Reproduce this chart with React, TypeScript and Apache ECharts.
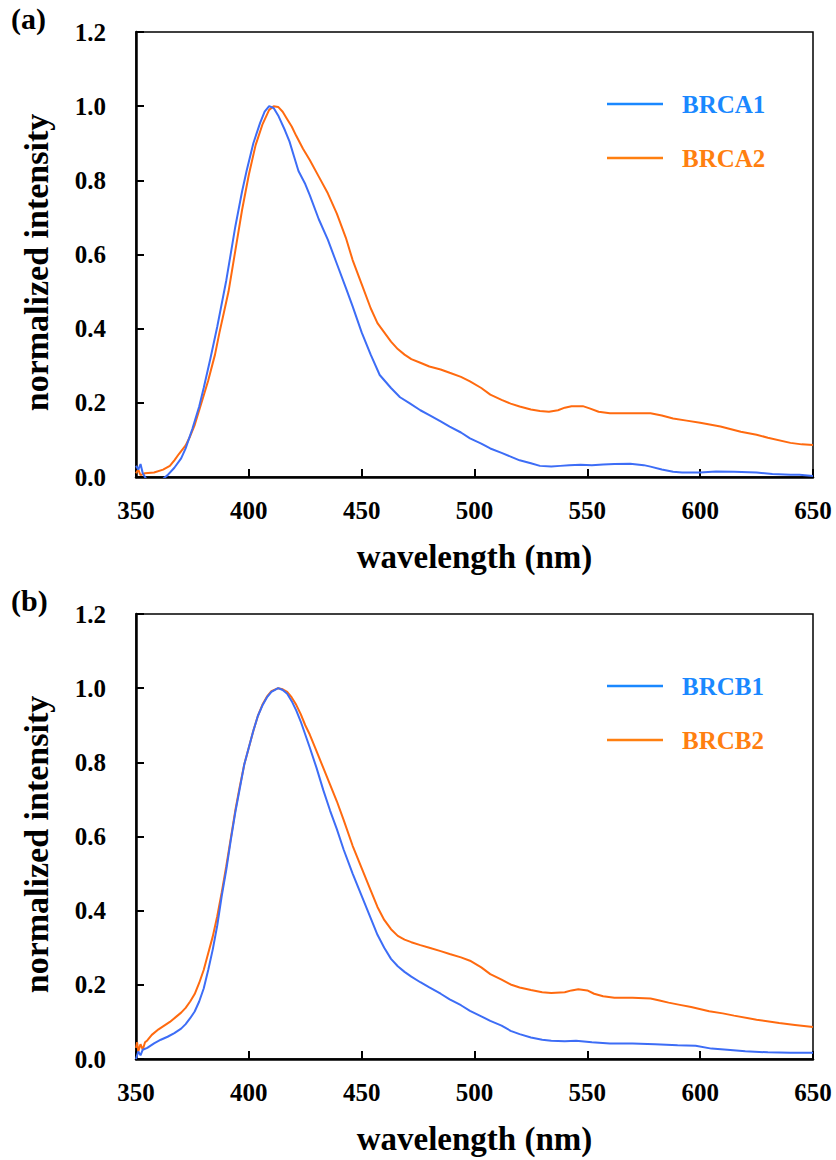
import React, { useEffect, useRef } from "react";
import * as echarts from "echarts";

// ---------- data ----------
const xTicks = [350, 400, 450, 500, 550, 600, 650];
const yTicks = [0, 0.2, 0.4, 0.6, 0.8, 1.0, 1.2];

const brca1X = [350, 351, 352, 353, 355, 358, 362, 364, 367, 370, 372, 375, 378, 380, 383, 386, 390, 394, 397, 399, 402, 405, 407, 409, 411, 413, 416, 418, 420, 422, 425, 427, 431, 435, 439, 443, 446, 450, 454, 458, 463, 467, 471, 476, 480, 485, 489, 494, 498, 503, 507, 512, 516, 520, 525, 529, 534, 538, 542, 547, 552, 557, 562, 569, 575, 578, 583, 588, 592, 600, 607, 615, 625, 632, 640, 644, 650];
const brca1Y = [0.03, 0.02, 0.035, 0.01, -0.01, -0.02, -0.005, 0.005, 0.025, 0.05, 0.077, 0.13, 0.19, 0.24, 0.32, 0.405, 0.53, 0.675, 0.77, 0.825, 0.9, 0.955, 0.985, 1.0, 0.995, 0.975, 0.935, 0.905, 0.865, 0.825, 0.79, 0.76, 0.695, 0.64, 0.575, 0.51, 0.46, 0.39, 0.33, 0.275, 0.24, 0.215, 0.2, 0.18, 0.167, 0.15, 0.136, 0.12, 0.104, 0.09, 0.077, 0.065, 0.055, 0.045, 0.037, 0.03, 0.028, 0.03, 0.032, 0.033, 0.032, 0.034, 0.035, 0.036, 0.032, 0.028, 0.02, 0.014, 0.012, 0.012, 0.015, 0.014, 0.012, 0.008, 0.006, 0.006, 0.003];

const brca2X = [350, 351, 352, 354, 358, 362, 365, 367, 369, 372, 374, 376, 378, 380, 382, 385, 387, 389, 391, 394, 397, 400, 403, 406, 409, 411, 413, 415, 417, 419, 421, 424, 427, 431, 435, 439, 443, 446, 450, 454, 457, 460, 463, 466, 469, 472, 476, 480, 485, 489, 494, 498, 503, 507, 512, 516, 520, 525, 529, 533, 537, 540, 543, 548, 551, 555, 560, 570, 578, 583, 588, 594, 600, 609, 618, 625, 630, 640, 645, 650];
const brca2Y = [0.01, 0.02, 0.005, 0.01, 0.012, 0.02, 0.03, 0.045, 0.062, 0.085, 0.11, 0.14, 0.18, 0.22, 0.26, 0.33, 0.39, 0.445, 0.5, 0.61, 0.72, 0.815, 0.895, 0.95, 0.99, 1.0, 0.998, 0.985, 0.965, 0.945, 0.92, 0.885, 0.855, 0.81, 0.765, 0.71, 0.645, 0.585, 0.52, 0.455, 0.415, 0.39, 0.365, 0.345, 0.33, 0.318, 0.308, 0.298, 0.29, 0.281, 0.27, 0.258, 0.24, 0.222, 0.208, 0.198, 0.19, 0.182, 0.178, 0.176, 0.18, 0.187, 0.191, 0.191, 0.185, 0.176, 0.172, 0.172, 0.172, 0.166, 0.158, 0.152, 0.146, 0.136, 0.122, 0.114, 0.106, 0.092, 0.088, 0.086];

const brcb1X = [350, 351, 352, 353, 355, 358, 361, 364, 367, 370, 372, 374, 376, 378, 380, 382, 384, 386, 388, 390, 392, 394, 396, 398, 400, 402, 404, 406, 408, 410, 413, 415, 417, 419, 421, 423, 425, 427, 430, 433, 436, 439, 442, 446, 450, 454, 457, 460, 463, 466, 469, 472, 476, 480, 485, 489, 494, 498, 503, 507, 512, 516, 520, 525, 530, 534, 540, 545, 552, 560, 570, 580, 590, 598, 605, 612, 620, 630, 640, 650];
const brcb1Y = [0.0, 0.02, 0.01, 0.025, 0.03, 0.042, 0.052, 0.06, 0.07, 0.082, 0.094, 0.11, 0.128, 0.155, 0.19, 0.24, 0.295, 0.36, 0.44, 0.51, 0.59, 0.665, 0.73, 0.795, 0.84, 0.885, 0.925, 0.953, 0.975, 0.99, 1.0, 0.995, 0.985, 0.965, 0.94, 0.91, 0.875, 0.84, 0.785, 0.725, 0.67, 0.62, 0.565, 0.5, 0.44, 0.38, 0.335, 0.3, 0.27, 0.25, 0.235, 0.222, 0.207, 0.193, 0.176, 0.161, 0.145, 0.13, 0.115, 0.103, 0.09, 0.076, 0.067, 0.058, 0.052, 0.049, 0.048, 0.049, 0.045, 0.042, 0.042, 0.04, 0.037, 0.036, 0.028, 0.025, 0.021, 0.018, 0.017, 0.017];

const brcb2X = [350, 350.5, 351, 352, 353, 354, 355, 357, 360, 363, 365, 368, 370, 372, 374, 376, 378, 380, 382, 384, 386, 388, 390, 392, 394, 396, 398, 400, 402, 404, 406, 408, 410, 413, 415, 417, 419, 421, 423, 425, 427, 430, 433, 436, 439, 442, 446, 450, 454, 457, 460, 463, 466, 469, 472, 476, 480, 485, 489, 494, 498, 503, 507, 512, 516, 520, 525, 530, 534, 540, 543, 546, 550, 553, 557, 562, 570, 578, 582, 586, 591, 596, 604, 610, 615, 625, 635, 642, 650];
const brcb2Y = [0.03, 0.045, 0.02, 0.04, 0.025, 0.045, 0.05, 0.065, 0.08, 0.092, 0.1, 0.115, 0.125, 0.138, 0.155, 0.175, 0.205, 0.24, 0.285, 0.33, 0.385, 0.45, 0.52, 0.595, 0.67, 0.735, 0.795, 0.84, 0.885, 0.925, 0.955, 0.977, 0.992, 1.0, 0.997, 0.99, 0.975, 0.955, 0.93, 0.9, 0.875, 0.83, 0.785, 0.74, 0.695, 0.645, 0.575, 0.515, 0.455, 0.41, 0.375, 0.35, 0.332, 0.322, 0.315, 0.307, 0.3, 0.291, 0.283, 0.274, 0.265, 0.247, 0.229, 0.214, 0.201, 0.193, 0.186, 0.18, 0.178, 0.18, 0.185, 0.188, 0.185, 0.176, 0.169, 0.165, 0.165, 0.163, 0.158, 0.152, 0.146, 0.14, 0.129, 0.123, 0.117, 0.106, 0.097, 0.092, 0.086];

const panelLabels = ["(a)", "(b)"];
const legendNames = [["BRCA1", "BRCA2"], ["BRCB1", "BRCB2"]];
const xTitle = "wavelength (nm)";
const yTitle = "normalized intensity";

// ---------- styles ----------
const FONT = "'Liberation Serif', 'Times New Roman', serif";
const BLUE = "#3D6DF6";
const ORANGE = "#FF6A0F";
const BLUE_LEG = "#1A88FF";
const ORANGE_LEG = "#FF7F10";

const pairs = (xs: number[], ys: number[]) => xs.map((x, i) => [x, ys[i]]);

const GRID_LEFT = 136;
const GRID_W = 677;
const GRID_H = 445;
const GRID_TOPS = [32, 614];

export default function App() {
  const ref = useRef<HTMLDivElement>(null);
  useEffect(() => {
    if (!ref.current) return;
    const chart = echarts.init(ref.current, undefined, { renderer: "svg" });

    const grids = GRID_TOPS.map((top) => ({
      left: GRID_LEFT,
      top,
      width: GRID_W,
      height: GRID_H,
      show: true,
      borderColor: "#000",
      borderWidth: 1.5,
      backgroundColor: "transparent",
    }));

    const xAxes = GRID_TOPS.map((_, i) => ({
      type: "value",
      gridIndex: i,
      min: xTicks[0],
      max: xTicks[xTicks.length - 1],
      interval: 50,
      axisLine: { show: true, onZero: false, lineStyle: { color: "#000", width: 2.5 } },
      axisTick: { show: true, inside: true, length: 8, lineStyle: { color: "#000", width: 2 } },
      axisLabel: {
        margin: 21,
        fontFamily: FONT,
        fontWeight: "bold",
        fontSize: 25,
        color: "#000",
      },
      splitLine: { show: false },
    }));

    const yAxes = GRID_TOPS.map((_, i) => ({
      type: "value",
      gridIndex: i,
      min: yTicks[0],
      max: yTicks[yTicks.length - 1],
      interval: 0.2,
      axisLine: { show: true, onZero: false, lineStyle: { color: "#000", width: 2.5 } },
      axisTick: { show: true, inside: true, length: 8, lineStyle: { color: "#000", width: 2 } },
      axisLabel: {
        margin: 30,
        fontFamily: FONT,
        fontWeight: "bold",
        fontSize: 25,
        color: "#000",
        formatter: (v: number) => v.toFixed(1),
      },
      splitLine: { show: false },
    }));

    const mk = (name: string, xs: number[], ys: number[], color: string, idx: number) => ({
      type: "line",
      name,
      xAxisIndex: idx,
      yAxisIndex: idx,
      data: pairs(xs, ys),
      showSymbol: false,
      clip: true,
      lineStyle: { color, width: 2 },
      itemStyle: { color },
      z: color === BLUE ? 3 : 2,
    });

    const series = [
      mk(legendNames[0][0], brca1X, brca1Y, BLUE, 0),
      mk(legendNames[0][1], brca2X, brca2Y, ORANGE, 0),
      mk(legendNames[1][0], brcb1X, brcb1Y, BLUE, 1),
      mk(legendNames[1][1], brcb2X, brcb2Y, ORANGE, 1),
    ];

    const graphic: any[] = [];
    GRID_TOPS.forEach((top, i) => {
      graphic.push({
        type: "text",
        x: 11,
        y: top - 14,
        style: {
          text: panelLabels[i],
          font: `bold 30px ${FONT}`,
          fill: "#000",
          textAlign: "left",
          textVerticalAlign: "middle",
        },
      });
      graphic.push({
        type: "text",
        x: GRID_LEFT + GRID_W / 2,
        y: top + GRID_H + 80,
        style: {
          text: xTitle,
          font: `bold 33px ${FONT}`,
          fill: "#000",
          textAlign: "center",
          textVerticalAlign: "middle",
        },
      });
      graphic.push({
        type: "text",
        x: 36,
        y: top + GRID_H / 2 + 8,
        rotation: Math.PI / 2,
        style: {
          text: yTitle,
          font: `bold 34px ${FONT}`,
          fill: "#000",
          textAlign: "center",
          textVerticalAlign: "middle",
        },
      });
      const legY = [top + 72, top + 126];
      const legC = [BLUE_LEG, ORANGE_LEG];
      legY.forEach((ly, k) => {
        graphic.push({
          type: "line",
          shape: { x1: 607, y1: ly, x2: 663, y2: ly },
          style: { stroke: legC[k], lineWidth: 2.5 },
        });
        graphic.push({
          type: "text",
          x: 682,
          y: ly,
          style: {
            text: legendNames[i][k],
            font: `bold 25px ${FONT}`,
            fill: legC[k],
            textAlign: "left",
            textVerticalAlign: "middle",
          },
        });
      });
    });

    chart.setOption({
      animation: false,
      backgroundColor: "#fff",
      grid: grids,
      xAxis: xAxes,
      yAxis: yAxes,
      series,
      graphic,
    });
    return () => chart.dispose();
  }, []);

  return (
    <div
      ref={ref}
      style={{ position: "absolute", left: 0, top: 0, width: 836, height: 1160 }}
    />
  );
}
